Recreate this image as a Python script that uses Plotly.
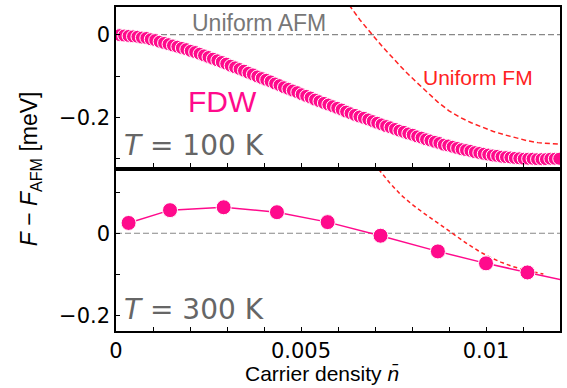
import plotly.graph_objects as go
from plotly.subplots import make_subplots

# ---- T = 100 K : FDW free energy relative to uniform AFM (dense sweep) ----
n_100 = [0.00010, 0.00022, 0.00034, 0.00046, 0.00058, 0.00070, 0.00082, 0.00094, 0.00106, 0.00118,
         0.00130, 0.00142, 0.00154, 0.00166, 0.00178, 0.00190, 0.00202, 0.00214, 0.00226, 0.00238,
         0.00250, 0.00262, 0.00274, 0.00286, 0.00298, 0.00310, 0.00322, 0.00334, 0.00346, 0.00358,
         0.00370, 0.00382, 0.00394, 0.00406, 0.00418, 0.00430, 0.00442, 0.00454, 0.00466, 0.00478,
         0.00490, 0.00502, 0.00514, 0.00526, 0.00538, 0.00550, 0.00562, 0.00574, 0.00586, 0.00598,
         0.00610, 0.00622, 0.00634, 0.00646, 0.00658, 0.00670, 0.00682, 0.00694, 0.00706, 0.00718,
         0.00730, 0.00742, 0.00754, 0.00766, 0.00778, 0.00790, 0.00802, 0.00814, 0.00826, 0.00838,
         0.00850, 0.00862, 0.00874, 0.00886, 0.00898, 0.00910, 0.00922, 0.00934, 0.00946, 0.00958,
         0.00970, 0.00982, 0.00994, 0.01006, 0.01018, 0.01030, 0.01042, 0.01054, 0.01066, 0.01078,
         0.01090, 0.01102, 0.01114, 0.01126, 0.01138, 0.01150, 0.01162, 0.01174, 0.01186, 0.01198]
F_100 = [-0.001, -0.002, -0.003, -0.004, -0.005, -0.007, -0.008, -0.011, -0.013, -0.017,
         -0.020, -0.023, -0.026, -0.029, -0.032, -0.035, -0.039, -0.042, -0.046, -0.050,
         -0.054, -0.058, -0.062, -0.066, -0.070, -0.075, -0.079, -0.083, -0.087, -0.092,
         -0.096, -0.101, -0.105, -0.109, -0.113, -0.118, -0.122, -0.127, -0.131, -0.135,
         -0.139, -0.144, -0.148, -0.152, -0.157, -0.161, -0.165, -0.169, -0.173, -0.177,
         -0.181, -0.186, -0.190, -0.194, -0.198, -0.201, -0.205, -0.209, -0.213, -0.217,
         -0.221, -0.224, -0.228, -0.232, -0.235, -0.239, -0.242, -0.246, -0.249, -0.253,
         -0.256, -0.259, -0.262, -0.266, -0.268, -0.271, -0.274, -0.277, -0.279, -0.281,
         -0.284, -0.286, -0.288, -0.290, -0.292, -0.293, -0.295, -0.296, -0.297, -0.298,
         -0.299, -0.300, -0.300, -0.300, -0.301, -0.301, -0.301, -0.300, -0.300, -0.300]

# Uniform FM branch at T = 100 K
n_fm_100 = [0.0063, 0.0066, 0.0069, 0.0072, 0.0075, 0.0078, 0.0081, 0.0084, 0.0087, 0.0090,
            0.0093, 0.0096, 0.0099, 0.0102, 0.0105, 0.0108, 0.0111, 0.0114, 0.0117, 0.0120]
F_fm_100 = [0.072, 0.035, 0.003, -0.029, -0.058, -0.087, -0.113, -0.138, -0.163, -0.184,
            -0.200, -0.213, -0.224, -0.234, -0.242, -0.249, -0.256, -0.261, -0.263, -0.265]

# ---- T = 300 K ----
n_300 = [0.00034, 0.00146, 0.00291, 0.00435, 0.00572, 0.00715, 0.00870, 0.01000, 0.01112]
F_300 = [0.025, 0.056, 0.063, 0.051, 0.027, -0.006, -0.044, -0.073, -0.095]
# connecting curve continues past the last computed point
n_300_line = n_300 + [0.0122]
F_300_line = F_300 + [-0.116]

n_fm_300 = [0.0071, 0.0074, 0.0077, 0.0080, 0.0083, 0.0086, 0.0089, 0.0092, 0.0095, 0.0098,
            0.0101, 0.0104, 0.0107, 0.0110, 0.0113, 0.01155]
F_fm_300 = [0.155, 0.122, 0.093, 0.070, 0.050, 0.031, 0.011, -0.008, -0.026, -0.043,
            -0.058, -0.070, -0.080, -0.088, -0.094, -0.099]

# uniform AFM reference level
n_span = [0.0, 0.012]
F_afm = [0.0, 0.0]

PINK = "#ff0a8c"
RED = "#ff2222"
GRAY = "#888888"
TICKFONT = dict(family="DejaVu Sans", size=21, color="black")

fig = make_subplots(rows=2, cols=1, shared_xaxes=True, vertical_spacing=0.0123)

for row in (1, 2):
    fig.add_trace(go.Scatter(x=n_span, y=F_afm, mode="lines",
                             line=dict(color=GRAY, width=1.2, dash="6px,3px"),
                             showlegend=False, hoverinfo="skip"), row=row, col=1)

fig.add_trace(go.Scatter(x=n_fm_100, y=F_fm_100, mode="lines",
                         line=dict(color=RED, width=1.5, dash="5px,3px"),
                         showlegend=False), row=1, col=1)
fig.add_trace(go.Scatter(x=n_100, y=F_100, mode="markers",
                         marker=dict(color=PINK, size=13, line=dict(color="white", width=1)),
                         showlegend=False), row=1, col=1)

fig.add_trace(go.Scatter(x=n_fm_300, y=F_fm_300, mode="lines",
                         line=dict(color=RED, width=1.5, dash="4px,3px"),
                         showlegend=False), row=2, col=1)
fig.add_trace(go.Scatter(x=n_300_line, y=F_300_line, mode="lines",
                         line=dict(color=PINK, width=1.5),
                         showlegend=False), row=2, col=1)
fig.add_trace(go.Scatter(x=n_300, y=F_300, mode="markers",
                         marker=dict(color=PINK, size=15, line=dict(color="white", width=1)),
                         showlegend=False), row=2, col=1)

axis_common = dict(showline=True, linewidth=1.5, linecolor="black", mirror=True,
                   ticks="inside", ticklen=4, tickwidth=1.2, tickcolor="black",
                   showgrid=False, zeroline=False, tickfont=TICKFONT)

fig.update_xaxes(range=[0, 0.012], dtick=0.005, tick0=0,
                 minor=dict(dtick=0.001, ticks="inside", ticklen=4, tickcolor="black", showgrid=False),
                 **axis_common)
fig.update_xaxes(showticklabels=False, row=1, col=1)
fig.update_yaxes(dtick=0.2, tick0=0,
                 minor=dict(dtick=0.1, ticks="inside", ticklen=4, tickcolor="black", showgrid=False),
                 **axis_common)
fig.update_yaxes(range=[-0.32, 0.067], domain=[0.5061, 1.0], row=1, col=1)
fig.update_yaxes(range=[-0.237, 0.151], domain=[0.0, 0.4939], row=2, col=1)

def label(x, y, text, font, xref="x", yref="y", **kw):
    return dict(x=x, y=y, xref=xref, yref=yref, text=text, showarrow=False,
                xanchor="center", yanchor="middle", font=font, **kw)

ann = [
    label(0.00387, 0.028, "Uniform AFM", dict(family="Liberation Sans", size=23, color="#777777")),
    label(0.00979, -0.104, "Uniform FM", dict(family="Liberation Sans", size=21, color=RED)),
    label(0.00287, -0.161, "FDW", dict(family="Liberation Sans", size=30, color=PINK)),
    label(0.0021, -0.269, "<i>T</i> = 100 K", dict(family="DejaVu Sans", size=28, color="#666666")),
    label(0.0021, -0.186, "<i>T</i> = 300 K", dict(family="DejaVu Sans", size=28, color="#666666"),
          xref="x2", yref="y2"),
    # axis titles
    label(0.464, -0.131, "Carrier density <i>n\u0304</i>",
          dict(family="Liberation Sans", size=21, color="black"), xref="paper", yref="paper"),
    label(-0.193, 0.5, "<i>F</i> \u2212 <i>F</i><sub>AFM</sub> [meV]",
          dict(family="Liberation Sans", size=23, color="black"), xref="paper", yref="paper",
          textangle=-90),
]

fig.update_layout(width=567, height=388, margin=dict(l=116, r=5, t=5, b=57),
                  plot_bgcolor="white", paper_bgcolor="white", annotations=ann,
                  showlegend=False)

fig.write_html("out.html")
